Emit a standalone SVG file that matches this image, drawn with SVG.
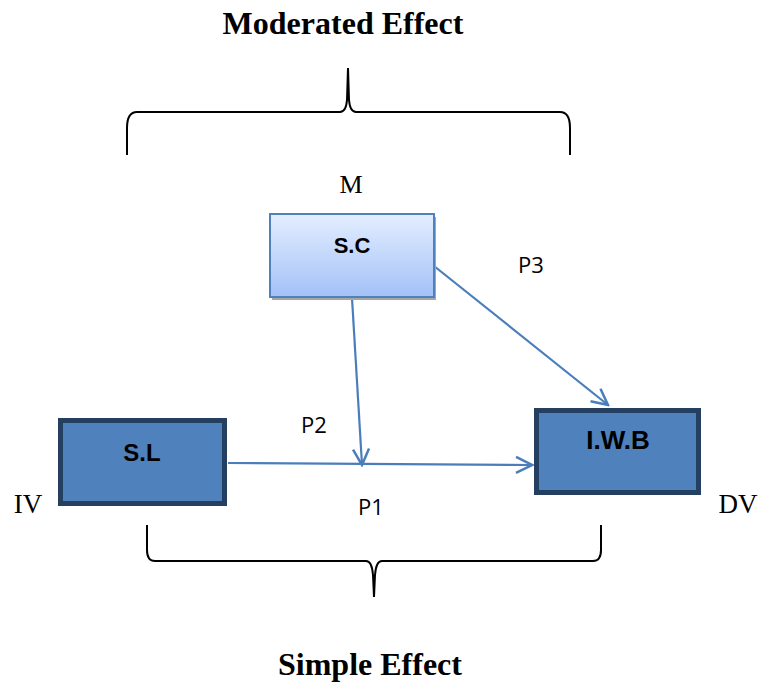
<svg xmlns="http://www.w3.org/2000/svg" width="760" height="683" viewBox="0 0 760 683">
<style>
.brace{fill:none;stroke:#000;stroke-width:2}
.conn{fill:none;stroke:#4a7ebb;stroke-width:2.2}
.serif{font-family:"Liberation Serif","Times New Roman",serif;fill:#000;text-anchor:middle}
.title{font-family:"Liberation Serif","Times New Roman",serif;font-weight:bold;font-size:32px;fill:#000;text-anchor:middle}
.lbl{font-family:"Open Sans","Liberation Sans",sans-serif;font-size:22px;fill:#000;text-anchor:middle}
.node{font-family:"Liberation Sans",Arial,sans-serif;font-weight:bold;fill:#000;text-anchor:middle}
.dark{fill:#4f81bd;stroke:#243f60;stroke-width:5}
</style>
<defs>
<linearGradient id="g" x1="0" y1="0" x2="0" y2="1">
<stop offset="0" stop-color="#e4eeff"/>
<stop offset="1" stop-color="#a3c1f7"/>
</linearGradient>
<marker id="arr" viewBox="0 0 20 20" refX="18" refY="10" markerWidth="20" markerHeight="20" markerUnits="userSpaceOnUse" orient="auto">
<path d="M2,2 L18,10 L2,18" fill="none" stroke="#4a7ebb" stroke-width="2.5"/>
</marker>
</defs>
<text class="title" x="343" y="34">Moderated Effect</text>
<text class="title" x="370" y="675">Simple Effect</text>
<path class="brace" d="M127,155 L127,128 Q127,112 137,112 L340,112 Q346,112 347,100 L348,68 L349,100 Q350,112 356,112 L560,112 Q570,112 570,128 L570,155"/>
<path class="brace" d="M147,525 L147,550 Q147,561 155,561 L366,561 Q372,561 373,575 L374,597 L375,575 Q376,561 382,561 L593,561 Q601,561 601,550 L601,525"/>
<g id="connectors">
<line class="conn" x1="228" y1="463" x2="532" y2="465" marker-end="url(#arr)"/>
<line class="conn" x1="352" y1="298" x2="362" y2="465" marker-end="url(#arr)"/>
<line class="conn" x1="434" y1="266" x2="608" y2="405" marker-end="url(#arr)"/>
</g>
<g id="node-sc">
<rect x="272" y="217" width="164" height="83" fill="#a6a6a6"/>
<rect x="270" y="214" width="164" height="83" fill="url(#g)" stroke="#4f81bd" stroke-width="2"/>
<text class="node" x="352" y="253" font-size="22">S.C</text>
</g>
<g id="node-sl">
<rect class="dark" x="60.5" y="420.5" width="164" height="83"/>
<text class="node" x="142" y="461" font-size="24">S.L</text>
</g>
<g id="node-iwb">
<rect class="dark" x="536.5" y="410.5" width="162" height="82"/>
<text class="node" x="618" y="449" font-size="26">I.W.B</text>
</g>
<text class="serif" x="351" y="193" font-size="26">M</text>
<text class="serif" x="28" y="513" font-size="27">IV</text>
<text class="serif" x="738" y="513" font-size="27">DV</text>
<text class="lbl" x="531" y="273">P3</text>
<text class="lbl" x="314" y="433">P2</text>
<text class="lbl" x="371" y="515">P1</text>
</svg>
